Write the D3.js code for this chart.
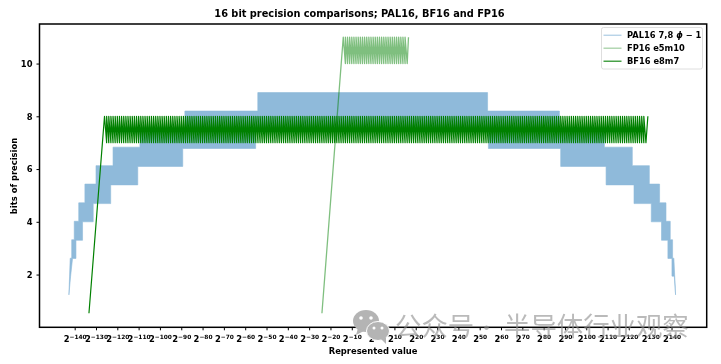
<!DOCTYPE html>
<html>
<head>
<meta charset="utf-8">
<script src="https://cdn.jsdelivr.net/npm/d3@7"></script>
<style>
	html, body { margin: 0; padding: 0; background: #fff; }
	svg { display: block; filter: blur(0.3px); }
	text { font-family: "DejaVu Sans", sans-serif; font-weight: bold; fill: #000; }
</style>
</head>
<body>
<div id="chart"></div>
<script>
// x values are log2 of the represented value
const xTickExps = [-140, -130, -120, -110, -100, -90, -80, -70, -60, -50, -40, -30, -20, -10, 0, 10, 20, 30, 40, 50, 60, 70, 80, 90, 100, 110, 120, 130, 140];
const yTicks = [2, 4, 6, 8, 10];

// PAL16 band, upper and lower envelope as step vertices
const palTopExp = [-142.7, -142.1, -141.4, -141.4, -140.2, -140.2, -138.1, -138.1, -135.2, -135.2, -130, -130, -122, -122, -109.4, -109.4, -88.3, -88.3, -54.1, -54.1, 53.7, 53.7, 87.4, 87.4, 108.5, 108.5, 121.6, 121.6, 129.6, 129.6, 134.4, 134.4, 137.4, 137.4, 139.4, 139.4, 140.5, 140.5, 141.1, 141.9];
const palTopBits = [1.23, 2.62, 2.62, 3.32, 3.32, 4.02, 4.02, 4.72, 4.72, 5.43, 5.43, 6.13, 6.13, 6.83, 6.83, 7.5, 7.5, 8.2, 8.2, 8.9, 8.9, 8.2, 8.2, 7.5, 7.5, 6.83, 6.83, 6.13, 6.13, 5.43, 5.43, 4.72, 4.72, 4.02, 4.02, 3.32, 3.32, 2.62, 2.62, 1.23];
const palBottomExp = [-142.7, -141.9, -141, -141, -139.4, -139.4, -136.3, -136.3, -131.3, -131.3, -123.1, -123.1, -110.4, -110.4, -89.3, -89.3, -55.1, -55.1, 54.1, 54.1, 88, 88, 109.3, 109.3, 122.4, 122.4, 130.5, 130.5, 135.3, 135.3, 138.3, 138.3, 140.2, 140.2, 141.3, 141.9];
const palBottomBits = [1.23, 1.94, 2.61, 2.61, 2.61, 3.3, 3.3, 4, 4, 4.69, 4.69, 5.4, 5.4, 6.1, 6.1, 6.78, 6.78, 7.5, 7.5, 6.78, 6.78, 6.1, 6.1, 5.4, 5.4, 4.69, 4.69, 4, 4, 3.3, 3.3, 2.61, 2.61, 1.94, 1.94, 1.23];

// FP16 e5m10: subnormal ramp, then one sawtooth per binade
const fp16RampExp = [-24];
const fp16RampBits = [0.53];
const fp16Binades = [-14, -13, -12, -11, -10, -9, -8, -7, -6, -5, -4, -3, -2, -1, 0, 1, 2, 3, 4, 5, 6, 7, 8, 9, 10, 11, 12, 13, 14, 15];
const fp16Top = 11;
const fp16Bottom = 10;
const fp16EndExp = [16.6];
const fp16EndBits = [11];

// BF16 e8m7, same idea
const bf16RampExp = [-133.3];
const bf16RampBits = [0.53];
const bf16Binades = [-126, -125, -124, -123, -122, -121, -120, -119, -118, -117, -116, -115, -114, -113, -112, -111, -110, -109, -108, -107, -106, -105, -104, -103, -102, -101, -100, -99, -98, -97, -96, -95, -94, -93, -92, -91, -90, -89, -88, -87, -86, -85, -84, -83, -82, -81, -80, -79, -78, -77, -76, -75, -74, -73, -72, -71, -70, -69, -68, -67, -66, -65, -64, -63, -62, -61, -60, -59, -58, -57, -56, -55, -54, -53, -52, -51, -50, -49, -48, -47, -46, -45, -44, -43, -42, -41, -40, -39, -38, -37, -36, -35, -34, -33, -32, -31, -30, -29, -28, -27, -26, -25, -24, -23, -22, -21, -20, -19, -18, -17, -16, -15, -14, -13, -12, -11, -10, -9, -8, -7, -6, -5, -4, -3, -2, -1, 0, 1, 2, 3, 4, 5, 6, 7, 8, 9, 10, 11, 12, 13, 14, 15, 16, 17, 18, 19, 20, 21, 22, 23, 24, 25, 26, 27, 28, 29, 30, 31, 32, 33, 34, 35, 36, 37, 38, 39, 40, 41, 42, 43, 44, 45, 46, 47, 48, 49, 50, 51, 52, 53, 54, 55, 56, 57, 58, 59, 60, 61, 62, 63, 64, 65, 66, 67, 68, 69, 70, 71, 72, 73, 74, 75, 76, 77, 78, 79, 80, 81, 82, 83, 84, 85, 86, 87, 88, 89, 90, 91, 92, 93, 94, 95, 96, 97, 98, 99, 100, 101, 102, 103, 104, 105, 106, 107, 108, 109, 110, 111, 112, 113, 114, 115, 116, 117, 118, 119, 120, 121, 122, 123, 124, 125, 126, 127];
const bf16Top = 8;
const bf16Bottom = 7;
const bf16EndExp = [128.9];
const bf16EndBits = [8];

const legendLabels = ['PAL16 7,8', 'FP16 e5m10', 'BF16 e8m7'];

const margin = {top: 24, right: 14.3, bottom: 36.7, left: 39.5};
const containerWidth = 721;
const containerHeight = 364;
const width = containerWidth - margin.left - margin.right;
const height = containerHeight - margin.top - margin.bottom;

const xScale = d3.scaleLinear().domain([-156.5, 156.5]).range([0, width]);
const yScale = d3.scaleLinear().domain([0, 11.5]).range([height, 0]);

const line = d3.line().x(d => xScale(d[0])).y(d => yScale(d[1]));

const svg = d3.select('#chart').append('svg')
	.attr('width', containerWidth)
	.attr('height', containerHeight);

const chartArea = svg.append('g')
	.attr('transform', `translate(${margin.left},${margin.top})`);

// PAL16 band
const palPoints = d3.zip(palTopExp, palTopBits)
	.concat(d3.zip(palBottomExp, palBottomBits).reverse());

chartArea.append('path')
	.attr('d', line(palPoints) + 'Z')
	.attr('fill', '#8fbada')
	.attr('stroke', '#8fbada')
	.attr('stroke-width', 0.6);

function sawPoints(rampExp, rampBits, binades, top, bottom, endExp, endBits) {
	const teeth = binades.flatMap(e => [[e, top], [e + 1, bottom]]);
	return d3.zip(rampExp, rampBits).concat(teeth, d3.zip(endExp, endBits));
}

chartArea.append('path')
	.attr('d', line(sawPoints(fp16RampExp, fp16RampBits, fp16Binades, fp16Top, fp16Bottom, fp16EndExp, fp16EndBits)))
	.attr('fill', 'none')
	.attr('stroke', 'green')
	.attr('stroke-opacity', 0.5)
	.attr('stroke-linejoin', 'round')
	.attr('stroke-width', 1.3)
	.style('filter', 'blur(0.45px)');

chartArea.append('path')
	.attr('d', line(sawPoints(bf16RampExp, bf16RampBits, bf16Binades, bf16Top, bf16Bottom, bf16EndExp, bf16EndBits)))
	.attr('fill', 'none')
	.attr('stroke', 'green')
	.attr('stroke-linejoin', 'round')
	.attr('stroke-width', 1.2)
	.style('filter', 'blur(0.45px)');

// axes
const xAxis = d3.axisBottom(xScale).tickValues(xTickExps).tickSize(3).tickPadding(2);
const yAxis = d3.axisLeft(yScale).tickValues(yTicks).tickSize(3).tickPadding(4);

const xAxisG = chartArea.append('g')
	.attr('class', 'x-axis')
	.attr('transform', `translate(0,${height})`)
	.call(xAxis);

xAxisG.selectAll('.tick text').each(function(d) {
	const t = d3.select(this).text(null)
		.attr('y', 15)
		.attr('dy', null)
		.style('font-size', '8.4px');
	t.append('tspan').text('2');
	t.append('tspan')
		.attr('dy', -3)
		.style('font-size', '5.9px')
		.text(String(d).replace('-', '\u2212'));
});

const yAxisG = chartArea.append('g')
	.attr('class', 'y-axis')
	.call(yAxis);

yAxisG.selectAll('.tick text').style('font-size', '8.4px');
chartArea.selectAll('.domain').remove();

// frame
chartArea.append('rect')
	.attr('width', width)
	.attr('height', height)
	.attr('fill', 'none')
	.attr('stroke', '#000')
	.attr('stroke-width', 1.5);

// title + axis labels
svg.append('text')
	.attr('x', 359.5)
	.attr('y', 17)
	.attr('text-anchor', 'middle')
	.style('font-size', '9.8px')
	.text('16 bit precision comparisons; PAL16, BF16 and FP16');

svg.append('text')
	.attr('x', margin.left + width / 2)
	.attr('y', 354)
	.attr('text-anchor', 'middle')
	.style('font-size', '8.4px')
	.text('Represented value');

svg.append('text')
	.attr('transform', 'translate(17,176) rotate(-90)')
	.attr('text-anchor', 'middle')
	.style('font-size', '8.4px')
	.text('bits of precision');

// legend
const legend = svg.append('g').attr('transform', 'translate(601.5,27.5)');

legend.append('rect')
	.attr('width', 101)
	.attr('height', 41.5)
	.attr('rx', 2)
	.attr('fill', '#fff')
	.attr('fill-opacity', 0.8)
	.attr('stroke', '#d5d5d5')
	.attr('stroke-width', 0.8);

const legendStyles = [
	{color: '#8fbada', w: 0.9},
	{color: '#a6d0a6', w: 1.3},
	{color: '#1a8a1a', w: 1.2}
];

const legendRow = legend.selectAll('.legend-row')
	.data(legendLabels)
	.enter()
	.append('g')
	.attr('class', 'legend-row')
	.attr('transform', (d, i) => `translate(0,${7.7 + i * 13})`);

legendRow.append('line')
	.attr('x1', 2)
	.attr('x2', 20)
	.attr('stroke', (d, i) => legendStyles[i].color)
	.attr('stroke-width', (d, i) => legendStyles[i].w);

const legendText = legendRow.append('text')
	.attr('x', 25.5)
	.attr('y', 3)
	.style('font-size', '8.3px')
	.text(d => d);

// mathtext part of the first label
legendText.filter((d, i) => i === 0).each(function() {
	const t = d3.select(this);
	t.append('tspan').attr('dx', 3).style('font-style', 'italic').text('\u03d5');
	t.append('tspan').text(' \u2212 1');
});

// watermark on top of everything
const mark = svg.append('g');

mark.append('ellipse')
	.attr('cx', 366).attr('cy', 321).attr('rx', 13).attr('ry', 11)
	.attr('fill', '#b4b4b4');
mark.append('path')
	.attr('d', 'M358,328L356,335L364,331Z')
	.attr('fill', '#b4b4b4');
mark.append('ellipse')
	.attr('cx', 378).attr('cy', 331).attr('rx', 11.5).attr('ry', 9.5)
	.attr('fill', '#b4b4b4')
	.attr('stroke', '#fff')
	.attr('stroke-width', 1);
mark.append('path')
	.attr('d', 'M381,339L386,344L386,337Z')
	.attr('fill', '#b4b4b4');
mark.selectAll('.eye')
	.data([[361, 318, 1.8], [371, 318, 1.8], [374, 328, 1.5], [382, 328, 1.5]])
	.enter()
	.append('circle')
	.attr('class', 'eye')
	.attr('cx', d => d[0])
	.attr('cy', d => d[1])
	.attr('r', d => d[2])
	.attr('fill', '#fff');

const markStyle = g => g
	.attr('y', 336)
	.style('font-family', '"Noto Sans CJK SC", sans-serif')
	.style('font-weight', 'normal')
	.style('font-size', '26.4px')
	.style('fill', '#8c8c8c')
	.style('fill-opacity', 0.6);

svg.append('text').attr('x', 395).call(markStyle).text('公众号');
svg.append('text').attr('x', 484).call(markStyle).attr('y', 329).style('font-size', '5px').text('●');
svg.append('text').attr('x', 504).call(markStyle).text('半导体行业观察');
</script>
</body>
</html>
